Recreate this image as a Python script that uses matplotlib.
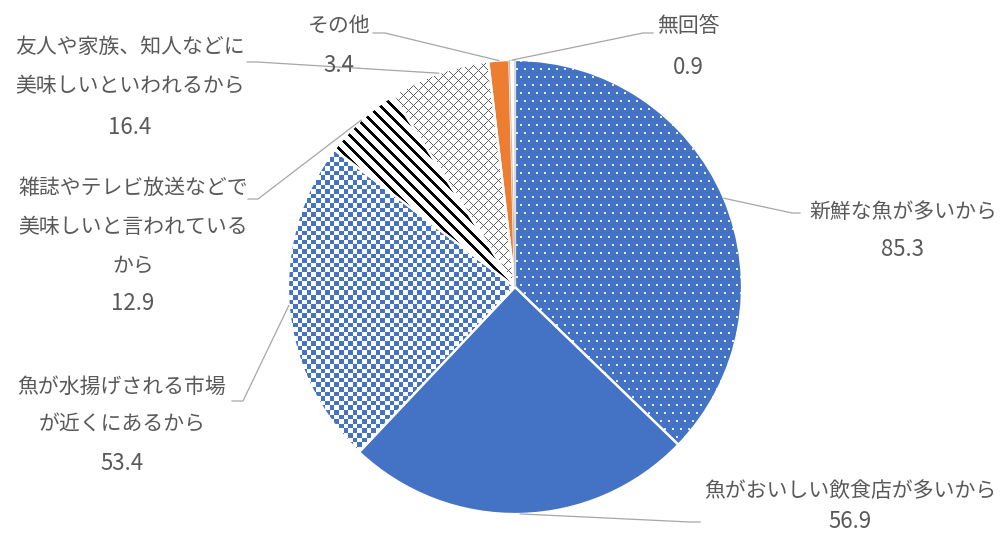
import numpy as np
import matplotlib
matplotlib.use('Agg')
import matplotlib.pyplot as plt
from matplotlib.patches import Wedge

plt.rcParams['font.family'] = ['Noto Sans CJK JP', 'DejaVu Sans']

# data (clockwise from 12 o'clock)
labels = [
    ['新鮮な魚が多いから'],
    ['魚がおいしい飲食店が多いから'],
    ['魚が水揚げされる市場', 'が近くにあるから'],
    ['雑誌やテレビ放送などで', '美味しいと言われている', 'から'],
    ['友人や家族、知人などに', '美味しいといわれるから'],
    ['その他'],
    ['無回答'],
]
values = [85.3, 56.9, 53.4, 12.9, 16.4, 3.4, 0.9]

BLUE = '#4472C4'
ORANGE = '#ED7D31'
TXT = '#595959'
LEAD = '#a6a6a6'

W, H = 1006, 535
CX, CY, R = 515, 287, 227   # pie centre / radius in pixels

fig = plt.figure(figsize=(W / 100, H / 100), dpi=100)
ax = fig.add_axes([(CX - R) / W, (H - CY - R) / H, 2 * R / W, 2 * R / H])

base_colors = [BLUE, BLUE, BLUE, 'white', 'white', ORANGE, 'white']
wedges, _ = ax.pie(values, startangle=90, counterclock=False, radius=1,
                   colors=base_colors,
                   wedgeprops=dict(edgecolor='none', linewidth=0))
ax.set_aspect('auto')
ax.axis('off')

# textures drawn as pixel images clipped to the wedges
N = 2 * R
ii, jj = np.mgrid[0:N, 0:N]


def rgb(c):
    return np.array(matplotlib.colors.to_rgb(c))


def texture(mask, fg, bg):
    img = np.empty((N, N, 3))
    img[:] = rgb(bg)
    img[mask] = rgb(fg)
    return img


dots = (ii % 8 < 2) & ((jj + 4 * ((ii // 8) % 2)) % 8 < 2)
checker = ((np.floor(ii / 4.6) + np.floor(jj / 4.6)) % 2) == 0
stripes = ((ii - jj) % 12) < 4
cross = ((ii + jj) % 10 == 0) | ((ii - jj) % 10 == 0)

textures = {
    0: texture(dots, '#e3ecf8', BLUE),
    2: texture(checker, BLUE, 'white'),
    3: texture(stripes, 'black', 'white'),
    4: texture(cross, '#606060', 'white'),
}
for k, img in textures.items():
    im = ax.imshow(img, extent=(-1, 1, -1, 1), origin='upper',
                   interpolation='nearest', zorder=2)
    im.set_clip_path(wedges[k])

# white separators on top
for k, w in enumerate(wedges):
    if k == 6:
        continue
    ax.add_patch(Wedge((0, 0), 1, w.theta1, w.theta2, facecolor='none',
                       edgecolor='white', linewidth=1.6, zorder=3))
w = wedges[6]
ax.add_patch(Wedge((0, 0), 1, w.theta1, w.theta2, facecolor='white',
                   edgecolor='#bfbfbf', linewidth=0.8, zorder=4))
ax.set_xlim(-1, 1)
ax.set_ylim(-1, 1)


def to_data(x, y):
    return (x - CX) / R, (CY - y) / R


# label layout: centre x, line y positions, leader start (pixels)
label_x = [903, 850, 122, 133, 130, 339, 688]
label_y = [
    [212, 250],
    [491, 521],
    [387, 425, 464],
    [188, 227, 266, 304],
    [47, 86, 127],
    [26, 65],
    [26, 68],
]
leader_from = [
    [(800, 213), (792, 213)],
    [(700, 522), (690, 522)],
    [(232, 401), (243, 401)],
    [(248, 199), (258, 199)],
    [(247, 62), (257, 62)],
    [(373, 33), (385, 33)],
    [(653, 33), (643, 33)],
]

for k, w in enumerate(wedges):
    lines = labels[k] + [f'{values[k]:.1f}']
    for n, (txt, y) in enumerate(zip(lines, label_y[k])):
        size = 16 if n == len(lines) - 1 else 15
        fig.text(label_x[k] / W, 1 - y / H, txt, ha='center', va='center',
                 fontsize=size, color=TXT)
    mid = np.deg2rad((w.theta1 + w.theta2) / 2)
    ax_pt = (np.cos(mid), np.sin(mid))
    pts = [to_data(*p) for p in leader_from[k]] + [ax_pt]
    xs, ys = zip(*pts)
    ax.plot(xs, ys, color=LEAD, linewidth=0.9, clip_on=False, zorder=5)

fig.savefig('out.png', dpi=100, facecolor='white')
